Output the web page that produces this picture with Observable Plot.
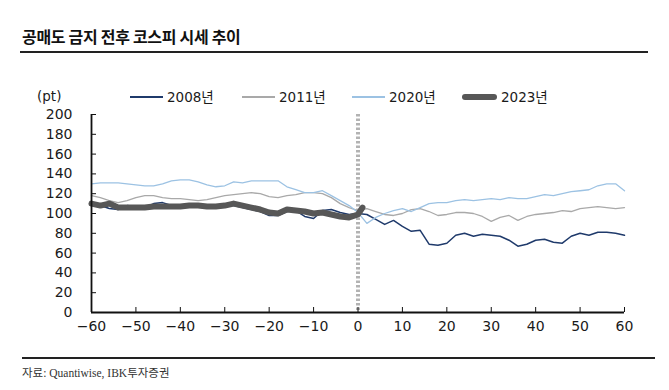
<!DOCTYPE html>
<html><head><meta charset="utf-8">
<script src="https://cdn.jsdelivr.net/npm/d3@7"></script>
<script src="https://cdn.jsdelivr.net/npm/@observablehq/plot@0.6"></script>
<style>
body{margin:0;background:#fff;}
#wrap{position:relative;width:669px;height:390px;overflow:hidden;background:#fff;font-family:"DejaVu Sans","Noto Sans CJK KR",sans-serif;color:#1a1a1a;}
#title{position:absolute;left:22px;top:26px;font-family:"Noto Sans CJK KR",sans-serif;font-weight:700;font-size:16px;line-height:20px;color:#111;letter-spacing:-0.3px;}
.rule{position:absolute;height:1.5px;background:#222;}
#unit{position:absolute;left:37px;top:87px;font-size:13.5px;line-height:18px;}
.lg-line{position:absolute;}
.lg-text{position:absolute;font-size:13.5px;line-height:18px;top:88px;font-family:"DejaVu Sans","Noto Sans CJK KR",sans-serif;}
#chart{position:absolute;left:0;top:80px;}
#source{position:absolute;left:22px;top:365px;font-family:"Liberation Serif","Noto Sans CJK KR",serif;font-size:11.5px;line-height:16px;color:#333;}
</style></head><body>
<div id="wrap">
  <div id="title">공매도 금지 전후 코스피 시세 추이</div>
  <div class="rule" style="top:51px;left:20px;width:628px"></div>
  <div id="unit">(pt)</div>
  <div id="legend"></div>
  <div id="chart"></div>
  <div class="rule" style="top:357px;left:22px;width:633px"></div>
  <div id="source">자료: Quantiwise, IBK투자증권</div>
</div>
<script>
// ---- data (trading days relative to ban start, index pt) ----
const days = [-60,-58,-56,-54,-52,-50,-48,-46,-44,-42,-40,-38,-36,-34,-32,-30,-28,-26,-24,-22,-20,-18,-16,-14,-12,-10,-8,-6,-4,-2,0,2,4,6,8,10,12,14,16,18,20,22,24,26,28,30,32,34,36,38,40,42,44,46,48,50,52,54,56,58,60];
const days2023 = [-60,-58,-56,-54,-52,-50,-48,-46,-44,-42,-40,-38,-36,-34,-32,-30,-28,-26,-24,-22,-20,-18,-16,-14,-12,-10,-8,-6,-4,-2,0,1];

const s2008 = [110,108,105,104,108,107,106,110,111,108,107,109,108,107,108,109,108,106,104,102,98,98,102,103,97,95,103,104,101,99,100,
  99,94,89,93,87,82,83,69,68,70,78,80,77,79,78,77,73,67,69,73,74,71,70,77,80,78,81,81,80,78];
const s2011 = [118,116,113,111,113,116,118,118,116,115,115,114,113,114,116,118,119,120,121,120,117,116,118,119,121,121,120,116,110,106,103,
  105,102,99,98,100,104,105,102,98,99,101,101,100,97,92,96,98,93,97,99,100,101,103,102,105,106,107,106,105,106];
const s2020 = [130,131,131,131,130,129,128,128,130,133,134,134,132,129,127,128,132,131,133,133,133,133,127,124,121,121,123,118,113,108,101,
  90,96,100,103,105,102,106,110,111,111,113,114,113,114,115,114,116,115,115,117,119,118,120,122,123,124,128,130,130,123];
const s2023 = [110,108,110,106,106,106,106,107,107,107,107,108,108,107,107,108,110,108,106,104,101,100,104,103,102,100,101,99,97,96,99,106];

const seriesNames = ["2008년","2011년","2020년","2023년"];
const seriesColors = ["#1f3a6b","#a9a9a9","#9cc2e3","#575757"];
const seriesWidths = [1.5,1.3,1.3,6];
const xTicks = [-60,-50,-40,-30,-20,-10,0,10,20,30,40,50,60];
const yTicks = [0,20,40,60,80,100,120,140,160,180,200];

const toRows = (xs, vs) => xs.map((t,i)=>({t, v: vs[i]}));
const rows = [toRows(days,s2008), toRows(days,s2011), toRows(days,s2020), toRows(days2023,s2023)];

// ---- legend ----
const legend = document.getElementById("legend");
const lgX = [130,242,352,462];
const lgW = [33,33,33,35];
seriesNames.forEach((n,i)=>{
  const l = document.createElement("div");
  l.className = "lg-line";
  const h = seriesWidths[i] < 3 ? 1.5 : 6;
  l.style.cssText = `left:${lgX[i]}px;top:${97 - h/2}px;width:${lgW[i]}px;height:${h}px;background:${seriesColors[i]};border-radius:${h>3?3:0}px;`;
  legend.appendChild(l);
  const t = document.createElement("div");
  t.className = "lg-text";
  t.style.left = (lgX[i] + lgW[i] + 4) + "px";
  t.textContent = n;
  legend.appendChild(t);
});

// ---- chart ----
const fmt = d => d < 0 ? "\u2212" + Math.abs(d) : String(d);
const chart = Plot.plot({
  width: 669, height: 270,
  marginLeft: 91, marginRight: 45, marginTop: 34, marginBottom: 38,
  x: {domain: [-60,60], label: null},
  y: {domain: [0,200], label: null},
  style: {fontSize: "14px", fontFamily: "DejaVu Sans, sans-serif", color: "#1a1a1a", background: "transparent", overflow: "visible"},
  marks: [
    Plot.ruleX([0], {stroke: "#b3b3b3", strokeWidth: 4, strokeDasharray: "2.5,2"}),
    ...rows.map((r,i)=>Plot.line(r, {x: "t", y: "v", stroke: seriesColors[i], strokeWidth: seriesWidths[i], strokeLinejoin: "round", strokeLinecap: "round"})),
    Plot.ruleY([0], {stroke: "#111", strokeWidth: 1.8}),
    Plot.ruleX([-60], {stroke: "#111", strokeWidth: 1.8}),
    Plot.axisX({ticks: xTicks, tickSize: -5, tickPadding: 14, tickFormat: fmt, stroke: "#111"}),
    Plot.axisY({ticks: yTicks, tickSize: -5, tickPadding: 24, tickFormat: fmt, stroke: "#111"})
  ]
});
document.getElementById("chart").appendChild(chart);
</script>
</body></html>
